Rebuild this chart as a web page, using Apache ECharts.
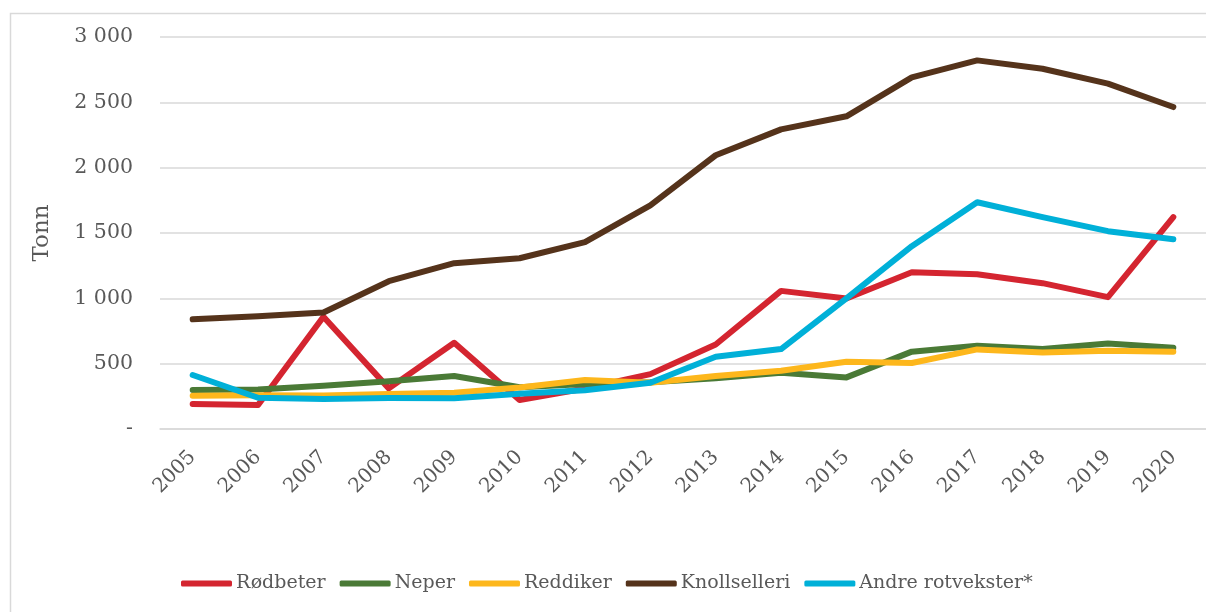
<!DOCTYPE html>
<html>
<head>
<meta charset="utf-8">
<script src="https://cdn.jsdelivr.net/npm/echarts@6/dist/echarts.min.js"></script>
<style>
  html, body { margin: 0; padding: 0; background: #ffffff; }
  #chart { width: 1206px; height: 612px; }
</style>
</head>
<body>
<div id="chart"></div>
<script>
// Produksjon av rotvekster, tonn per år
const years = ['2005','2006','2007','2008','2009','2010','2011','2012','2013','2014','2015','2016','2017','2018','2019','2020'];
const rodbeter     = [191, 183, 859, 311, 660, 222, 310, 420, 647, 1057, 999, 1200, 1185, 1116, 1009, 1621];
const neper        = [298, 303, 331, 365, 405, 320, 345, 357, 388, 430, 395, 592, 637, 612, 655, 622];
const reddiker     = [255, 258, 257, 268, 278, 318, 375, 354, 405, 446, 515, 505, 609, 586, 599, 591];
const knollselleri = [839, 862, 892, 1131, 1269, 1307, 1430, 1712, 2095, 2293, 2393, 2691, 2821, 2757, 2643, 2464];
const andre        = [413, 239, 229, 237, 235, 270, 296, 354, 553, 612, 1000, 1399, 1735, 1621, 1514, 1452];
const yTicks = [0, 500, 1000, 1500, 2000, 2500, 3000];

const FONT = "'DejaVu Serif', Georgia, serif";
const TEXT = '#595959';

const seriesDefs = [
  { name: 'Rødbeter', data: rodbeter, color: '#D42530' },
  { name: 'Neper', data: neper, color: '#4A7A36' },
  { name: 'Reddiker', data: reddiker, color: '#FDB71C' },
  { name: 'Knollselleri', data: knollselleri, color: '#55331B' },
  { name: 'Andre rotvekster*', data: andre, color: '#00B0D8' }
];

function fmt(v) {
  if (v === 0) return '-';
  const s = String(v);
  return s.length > 3 ? s.slice(0, s.length - 3) + ' ' + s.slice(-3) : s;
}

const chart = echarts.init(document.getElementById('chart'), null, { renderer: 'canvas' });
chart.setOption({
  backgroundColor: '#ffffff',
  animation: false,
  graphic: [{
    type: 'rect',
    shape: { x: 10.5, y: 13.5, width: 1260, height: 700 },
    style: { fill: 'none', stroke: '#D9D9D9', lineWidth: 1.5 },
    z: 0
  }],
  grid: { left: 160, top: 37, width: 1054, height: 392 },
  legend: {
    left: 176,
    top: 569,
    icon: 'roundRect',
    itemWidth: 51,
    itemHeight: 6,
    itemGap: 14,
    textStyle: { fontFamily: FONT, fontSize: 19, color: TEXT, padding: [0, 0, 0, -1] },
    data: seriesDefs.map(s => s.name)
  },
  xAxis: {
    type: 'category',
    data: years,
    boundaryGap: true,
    axisLine: { lineStyle: { color: '#D9D9D9', width: 1.5 } },
    axisTick: { show: false },
    axisLabel: {
      rotate: 45,
      margin: 25,
      interval: 0,
      fontFamily: FONT,
      fontSize: 20,
      color: TEXT
    }
  },
  yAxis: {
    type: 'value',
    min: 0,
    max: 3000,
    interval: 500,
    name: 'Tonn',
    nameLocation: 'middle',
    nameGap: 106,
    nameTextStyle: { fontFamily: FONT, fontSize: 23, color: TEXT },
    axisLine: { show: false },
    axisTick: { show: false },
    splitLine: { lineStyle: { color: '#D9D9D9', width: 1.5 } },
    axisLabel: {
      margin: 27,
      fontFamily: FONT,
      fontSize: 20.5,
      color: TEXT,
      formatter: v => yTicks.includes(v) ? fmt(v) : ''
    }
  },
  series: seriesDefs.map(s => ({
    name: s.name,
    type: 'line',
    data: s.data,
    showSymbol: false,
    symbol: 'none',
    color: s.color,
    lineStyle: { color: s.color, width: 6, cap: 'round', join: 'round' },
    itemStyle: { color: s.color }
  }))
});
</script>
</body>
</html>
